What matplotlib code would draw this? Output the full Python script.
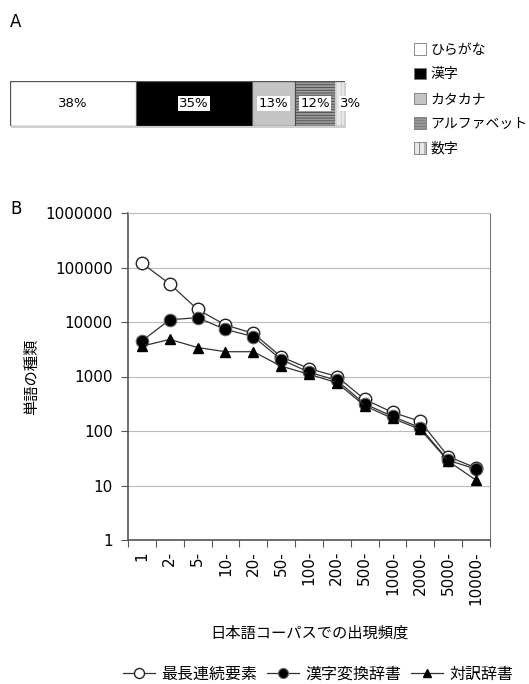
import numpy as np
import matplotlib.pyplot as plt
from matplotlib.patches import Patch

plt.rcParams['font.family'] = ['Noto Sans CJK JP', 'DejaVu Sans']
plt.rcParams['hatch.linewidth'] = 0.6

# panel A: character type shares
char_types = ['ひらがな', '漢字', 'カタカナ', 'アルファベット', '数字']
char_shares = [38, 35, 13, 12, 3]

# panel B: word type counts by corpus frequency
freq_bins = ['1', '2-', '5-', '10-', '20-', '50-', '100-', '200-', '500-',
             '1000-', '2000-', '5000-', '10000-']
longest_seq = [120000, 50000, 17000, 8800, 6200, 2300, 1400, 1000, 380, 220, 150, 34, 21]
kanji_dict = [4500, 11000, 12000, 7300, 5400, 2050, 1200, 850, 315, 185, 115, 29, 20]
trans_dict = [3600, 4800, 3400, 2850, 2850, 1550, 1100, 770, 290, 170, 107, 28, 12.5]
series_names = ['最長連続要素', '漢字変換辞書', '対訳辞書']

W, H = 529, 684
fig = plt.figure(figsize=(W / 100, H / 100), dpi=100)

# ---- panel A ----
fig.text(10 / W, 1 - 27 / H, 'A', fontsize=12, family='DejaVu Sans')
ax_a = fig.add_axes([10 / W, 1 - 126 / H, 335 / W, 45 / H])
faces = ['white', 'black', '#c4c4c4', '#9a9a9a', '#e8e8e8']
hatches = [None, None, None, '------', '|||']
hatch_cols = ['#555555', '#555555', '#555555', '#4a4a4a', '#cccccc']
total = sum(char_shares)
# soft shadow under the bar
ax_a.barh(-0.04, total, left=0.3, height=1, color='#cfcfcf', edgecolor='none',
          zorder=0, clip_on=False)
left = 0
for share, fc, hc, hcol in zip(char_shares, faces, hatches, hatch_cols):
    ax_a.barh(0, share, left=left, height=1, color=fc,
              edgecolor=hcol if hc else '#555555', hatch=hc, linewidth=0.8,
              zorder=1)
    cx = left + share / 2
    if share < 5:
        cx = left + share + 1.8
    ax_a.text(cx, 0, f'{share}%', ha='center', va='center', fontsize=9.5,
              family='DejaVu Sans', zorder=3,
              bbox=dict(facecolor='white', edgecolor='none', pad=1.0))
    left += share
ax_a.barh(0, total, height=1, fill=False, edgecolor='#555555', linewidth=0.9,
          zorder=2)
ax_a.set_xlim(0, total)
ax_a.set_ylim(-0.5, 0.5)
ax_a.axis('off')

handles_a = []
for name, fc, hc in zip(char_types, faces, hatches):
    handles_a.append(Patch(facecolor=fc, edgecolor='#777777', hatch=hc, label=name,
                           linewidth=0.6))
fig.legend(handles=handles_a, loc='upper left', bbox_to_anchor=(408 / W, 1 - 37 / H),
           frameon=False, fontsize=10, handlelength=0.9, handleheight=0.9,
           handletextpad=0.3, labelspacing=0.78, borderaxespad=0)

# ---- panel B ----
fig.text(10 / W, 1 - 214 / H, 'B', fontsize=12, family='DejaVu Sans')
ax = fig.add_axes([128 / W, 1 - 540 / H, 362 / W, 327 / H])
x = np.arange(len(freq_bins))
ax.plot(x, longest_seq, '-o', color='#333333', mfc='white', mec='#222222',
        ms=9, lw=0.9, mew=1.0, label=series_names[0], zorder=3)
ax.plot(x, kanji_dict, '-o', color='#333333', mfc='black', mec='#666666',
        ms=9, lw=0.9, mew=0.8, label=series_names[1], zorder=4)
ax.plot(x, trans_dict, '-^', color='#333333', mfc='black', mec='black',
        ms=7.5, lw=0.9, label=series_names[2], zorder=5)

ax.set_yscale('log')
ax.set_ylim(1, 1e6)
ax.set_xlim(-0.5, len(freq_bins) - 0.5)
ax.set_yticks([10 ** k for k in range(7)])
ax.set_yticklabels([str(10 ** k) for k in range(7)], family='DejaVu Sans')
ax.minorticks_off()
ax.yaxis.grid(True, color='#bbbbbb', lw=0.8)
ax.set_axisbelow(True)
ax.tick_params(axis='y', labelsize=11, length=5, color='#555555', pad=6)

ax.set_xticks(np.arange(len(freq_bins) + 1) - 0.5)
ax.set_xticklabels([])
ax.set_xticks(x, minor=True)
ax.set_xticklabels(freq_bins, minor=True, rotation=90, fontsize=11,
                   family='DejaVu Sans')
ax.tick_params(axis='x', which='major', length=5, color='#555555')
ax.tick_params(axis='x', which='minor', length=0, pad=8)

for s in ['left', 'bottom']:
    ax.spines[s].set_color('#555555')
    ax.spines[s].set_linewidth(1.2)
ax.spines['right'].set_color('#777777')
ax.spines['top'].set_color('#bbbbbb')
ax.spines['top'].set_linewidth(0.8)

ax.set_ylabel('単語の種類', fontsize=11, labelpad=4)
ax.set_xlabel('日本語コーパスでの出現頻度', fontsize=11, labelpad=14)

fig.legend(loc='lower center', bbox_to_anchor=(318 / W, -13 / H), ncol=3,
           frameon=False, fontsize=11.5, handlelength=2.0, columnspacing=0.6,
           handletextpad=0.4, markerscale=0.8)

fig.savefig('out.png', dpi=100)
